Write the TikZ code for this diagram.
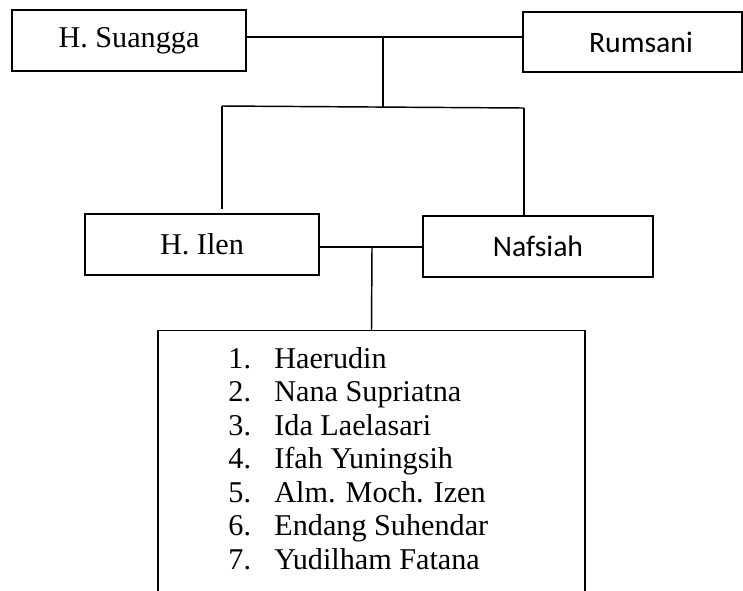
\documentclass[tikz,border=0pt]{standalone}
\usepackage{fontspec}
\setmainfont{Liberation Serif}
\newfontfamily\calibri{Carlito}
\usetikzlibrary{positioning}
\newcommand{\satuan}{0.414pt}
\tikzset{
  kotak/.style={draw, rectangle, line width=0.6pt, inner sep=0pt, minimum height=61*\satuan},
  garis/.style={line width=0.6pt},
  hurufc/.style={font=\fontsize{12.3}{14}\selectfont\calibri},
  every node/.style={font=\fontsize{12.5}{14}\selectfont}
}

\begin{document}
\begin{tikzpicture}[x=\satuan, y=-\satuan]
  \useasboundingbox (0,0) rectangle (743,590);
  \clip (0,0) rectangle (743,590);

  % Orang tua
  \node[kotak, minimum width=234*\satuan] (suangga) at (129,40.5) {H. Suangga};
  \node[kotak, hurufc, minimum width=219*\satuan, minimum height=60*\satuan] (rumsani) at (632.5,42) {\hspace*{7pt}Rumsani};

  \coordinate (nikah1) at (383,37);
  \coordinate (cabang) at (383,107);
  \coordinate (kiri) at (222,106);
  \coordinate (kanan) at (524,108);
  \coordinate (kiribawah) at (222,209);
  \draw[garis] (suangga.east |- nikah1) -- (rumsani.west |- nikah1);
  \draw[garis] (nikah1) -- (cabang);
  \draw[garis] (kiri) -- (kanan);
  \draw[garis] (kiri) -- (kiribawah);

  % Anak dan menantu
  \node[kotak, minimum width=234*\satuan] (ilen) at (202,244.5) {H. Ilen};
  \node[kotak, hurufc, minimum width=230*\satuan] (nafsiah) at (538,246.5) {Nafsiah};
  \draw[garis] (kanan) -- (kanan |- nafsiah.north);

  \coordinate (nikah2) at (372,247);
  \draw[garis] (ilen.east |- nikah2) -- (nafsiah.west |- nikah2);

  % Cucu
  \node[kotak, anchor=north, minimum width=427*\satuan, minimum height=280*\satuan] (anak) at (371.5,330) {};
  \draw[garis] (nikah2) -- (anak.north);

  \foreach \nama [count=\i] in {Haerudin, Nana Supriatna, Ida Laelasari, Ifah Yuningsih,
      Alm. Moch. Izen, Endang Suhendar, Yudilham Fatana}
    \node[anchor=base west, inner sep=0pt] (nama\i) at (228,{368+33.5*(\i-1)})
      {\makebox[19pt][l]{\i.}\nama};
\end{tikzpicture}
\end{document}
